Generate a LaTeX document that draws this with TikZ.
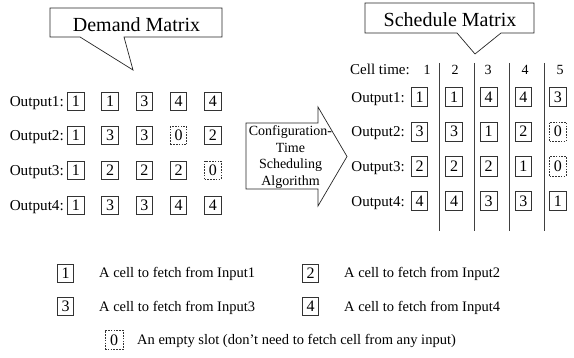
\documentclass[tikz,border=0pt]{standalone}
\usepackage{fontspec}
\setmainfont{Liberation Serif}
\usetikzlibrary{calc}
\tikzset{
  callbox/.style={draw=black!85, line width=0.7pt, fill=white},
  titletext/.style={font=\fontsize{20}{22}\selectfont, inner sep=0pt},
  lbltext/.style={font=\fontsize{15.2}{18}\selectfont, inner sep=0pt},
  rlbltext/.style={font=\fontsize{15}{18}\selectfont, inner sep=0pt},
  hdrtext/.style={font=\fontsize{14}{16}\selectfont, inner sep=0pt},
  legtext/.style={font=\fontsize{14.5}{17}\selectfont, inner sep=0pt},
  cellbox/.style={draw=black!80, line width=0.8pt, minimum width=16.5pt, inner sep=0pt,
     font=\fontsize{16}{18}\selectfont},
  lcell/.style={cellbox, minimum height=18pt},
  rcell/.style={cellbox, minimum height=19.5pt},
  cellv0/.style={dash pattern=on 1.6pt off 1.2pt, line width=0.7pt},
  cellv1/.style={}, cellv2/.style={}, cellv3/.style={}, cellv4/.style={},
  sepline/.style={draw=black!75, line width=0.9pt},
  arrowtext/.style={font=\fontsize{14}{16.6}\selectfont, align=center, inner sep=0pt},
}
\begin{document}
\begin{tikzpicture}[x=1pt, y=-1pt]
\useasboundingbox (0,0) rectangle (574,358);

% ---- Demand Matrix callout
\draw[callbox] (50,8) -- (222,8) -- (222,37) -- (124,37) -- (133,70) -- (80,37) -- (50,37) -- cycle;
\node[titletext, anchor=base] (demtitle) at (136.5,31.5) {Demand Matrix};

% ---- Schedule Matrix callout
\draw[callbox] (365,3) -- (534,3) -- (534,33) -- (501,33) -- (475,54) -- (457,33) -- (365,33) -- cycle;
\node[titletext, anchor=base] (schtitle) at (450,26.5) {Schedule Matrix};

% ---- Left matrix
\foreach \r/\vals in {1/{1,1,3,4,4}, 2/{1,3,3,0,2}, 3/{1,2,2,2,0}, 4/{1,3,3,4,4}} {
  \pgfmathsetmacro{\ry}{101+(\r-1)*34.7}
  \node[lbltext, anchor=base east] (dlab\r) at (64,\ry+5.2) {Output\r:};
  \foreach \v [count=\c] in \vals {
    \pgfmathsetmacro{\cx}{75.8+(\c-1)*34.25}
    \node[lcell, cellv\v] (d-\r-\c) at (\cx,\ry) {\v};
  }
}

% ---- Arrow
\draw[callbox] (246,123) -- (318,123) -- (318,107) -- (347,156.5) -- (318,206) -- (318,189) -- (246,189) -- cycle;
\node[arrowtext] (algo) at (290.5,157) {Configuration-\\Time\\Scheduling\\Algorithm};

% ---- Right matrix header
\node[rlbltext, anchor=base east] (celltime) at (410,75) {Cell time:};
\foreach \n/\hx in {1/427, 2/455, 3/488, 4/525, 5/560} {
  \node[hdrtext, anchor=base] (h\n) at (\hx,75) {\n};
}
% separators
\foreach \k/\sx in {1/439.5, 2/474.2, 3/509, 4/544} {
  \coordinate (st\k) at (\sx,63);
  \coordinate (sb\k) at (\sx,231);
  \draw[sepline] (st\k) -- (sb\k);
}

% ---- Right matrix
\foreach \r/\vals in {1/{1,1,4,4,3}, 2/{3,3,1,2,0}, 3/{2,2,2,1,0}, 4/{4,4,3,3,1}} {
  \pgfmathsetmacro{\ry}{97+(\r-1)*34.7}
  \node[rlbltext, anchor=base east] (slab\r) at (405,\ry+5.2) {Output\r:};
  \foreach \v [count=\c] in \vals {
    \pgfmathsetmacro{\cx}{419.5+(\c-1)*34.6}
    \node[rcell, cellv\v] (s-\r-\c) at (\cx,\ry) {\v};
  }
}

% ---- Legend
\node[rcell, minimum height=18pt] (leg1) at (65.5,273) {1};
\node[legtext, anchor=base west] (legt1) at (99,278) {A cell to fetch from Input1};
\node[rcell, minimum height=18pt] (leg2) at (310.5,273) {2};
\node[legtext, anchor=base west] (legt2) at (344,278) {A cell to fetch from Input2};
\node[rcell, minimum height=18pt] (leg3) at (65.5,306.5) {3};
\node[legtext, anchor=base west] (legt3) at (99,311.5) {A cell to fetch from Input3};
\node[rcell, minimum height=18pt] (leg4) at (310.5,306.5) {4};
\node[legtext, anchor=base west] (legt4) at (344,311.5) {A cell to fetch from Input4};
\node[rcell, cellv0, minimum width=18pt, minimum height=19pt] (leg0) at (114,340) {0};
\node[legtext, anchor=base west] (legt0) at (137,345) {An empty slot (don’t need to fetch cell from any input)};
\end{tikzpicture}
\end{document}
